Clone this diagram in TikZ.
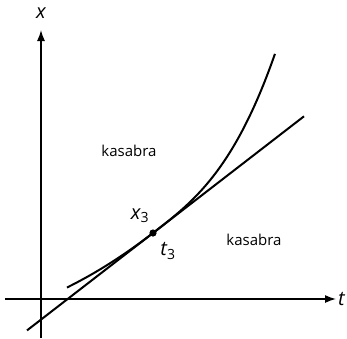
\documentclass[tikz,border=0pt]{standalone}
\usepackage{fontspec}
\setmainfont{Open Sans}
\usetikzlibrary{arrows.meta}
\begin{document}
\begin{tikzpicture}[x=1pt,y=-1pt,
  axis/.style={line width=1.4pt,-{Latex[length=11pt,width=8pt]}},
  curve/.style={line width=2pt},
  word/.style={font=\fontsize{15}{17}\selectfont},
  sym/.style={font=\fontsize{20}{22}\selectfont\itshape, inner sep=0pt}]
\useasboundingbox (0,0) rectangle (347,338);
\coordinate (yb) at (41,338);
\coordinate (yt) at (41,30);
\coordinate (xl) at (5,299);
\coordinate (xr) at (336,299);
\draw[axis] (yb) -- (yt);
\draw[axis] (xl) -- (xr);
\node[sym] (xlab) at (41,13) {x};
\node[sym, anchor=west] (tlab) at (338,299) {t};
\coordinate (P) at (153,233);
\coordinate (L1) at (27,330.4);
\coordinate (L2) at (304,116.3);
\draw[curve] (L1) -- (L2);
\draw[curve] plot[domain=-0.86:0, samples=40, smooth]
  ({153+100*\x}, {233 - 77.3*\x - 16.2*\x*\x})
  -- plot[domain=0:1.22, samples=50, smooth]
  ({153+100*\x}, {233 - 77.3*\x - 46.8*\x*\x*\x});
\fill (P) circle (3.6pt);
\node[sym] (x3) at (140,216) {x\textsubscript{\upshape 3}};
\node[sym] (t3) at (168,251) {t\textsubscript{\upshape 3}};
\node[word] (k1) at (129,151) {kasabra};
\node[word] (k2) at (254,240) {kasabra};
\end{tikzpicture}
\end{document}
